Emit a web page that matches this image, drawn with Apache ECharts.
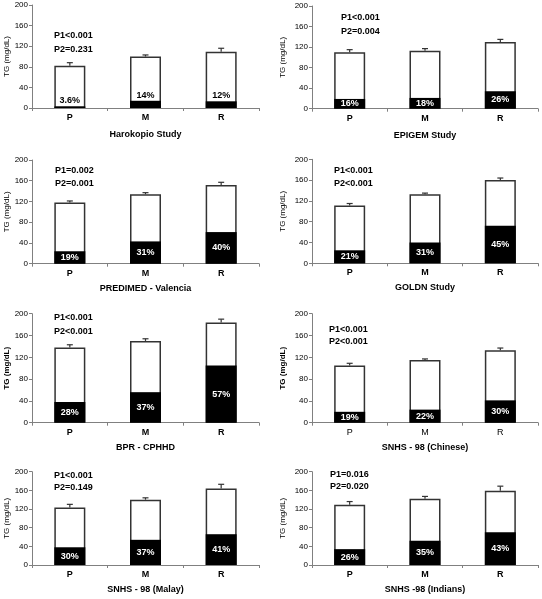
<!DOCTYPE html>
<html><head><meta charset="utf-8">
<script src="https://cdn.jsdelivr.net/npm/echarts@6/dist/echarts.min.js"></script>
<style>html,body{margin:0;padding:0;background:#fff}#c{width:542px;height:599px}</style>
</head><body><div id="c"></div>
<script>
const categories = ['P', 'M', 'R'];
const yTicks = [0, 40, 80, 120, 160, 200];
const titles = ['Harokopio Study', 'EPIGEM Study', 'PREDIMED - Valencia', 'GOLDN Study', 'BPR - CPHHD', 'SNHS - 98 (Chinese)', 'SNHS - 98 (Malay)', 'SNHS -98 (Indians)'];
const p1Labels = ['P1<0.001', 'P1<0.001', 'P1=0.002', 'P1<0.001', 'P1<0.001', 'P1<0.001', 'P1<0.001', 'P1=0.016'];
const p2Labels = ['P2=0.231', 'P2=0.004', 'P2=0.001', 'P2<0.001', 'P2<0.001', 'P2<0.001', 'P2=0.149', 'P2=0.020'];
const totals1 = [82, 100, 109], upper1 = [88, 103, 116], black1 = [3, 14, 13], pct1 = ['3.6%', '14%', '12%'];
const totals2 = [110, 113, 130], upper2 = [115, 117, 135], black2 = [19, 21, 34], pct2 = ['16%', '18%', '26%'];
const totals3 = [118, 134, 152], upper3 = [121, 137, 157], black3 = [24, 43, 61], pct3 = ['19%', '31%', '40%'];
const totals4 = [111, 133, 160], upper4 = [115, 135, 164], black4 = [25, 40, 72], pct4 = ['21%', '31%', '45%'];
const totals5 = [138, 150, 184], upper5 = [143, 154, 190], black5 = [38, 56, 105], pct5 = ['28%', '37%', '57%'];
const totals6 = [105, 115, 133], upper6 = [109, 117, 137], black6 = [20, 24, 41], pct6 = ['19%', '22%', '30%'];
const totals7 = [123, 140, 164], upper7 = [130, 144, 173], black7 = [38, 54, 66], pct7 = ['30%', '37%', '41%'];
const totals8 = [129, 142, 159], upper8 = [136, 147, 169], black8 = [34, 52, 70], pct8 = ['26%', '35%', '43%'];

const totals = [totals1, totals2, totals3, totals4, totals5, totals6, totals7, totals8];
const uppers = [upper1, upper2, upper3, upper4, upper5, upper6, upper7, upper8];
const blacks = [black1, black2, black3, black4, black5, black6, black7, black8];
const pcts = [pct1, pct2, pct3, pct4, pct5, pct6, pct7, pct8];

// layout
const gridBoxes = [
  {left: 32, top: 5, bottom: 108},
  {left: 312, top: 6, bottom: 108.7},
  {left: 32, top: 160, bottom: 263.7},
  {left: 312, top: 159.3, bottom: 263.3},
  {left: 32, top: 313.7, bottom: 422.7},
  {left: 312, top: 313.7, bottom: 422.7},
  {left: 32, top: 471.7, bottom: 565},
  {left: 312, top: 471.7, bottom: 565}
];
const titleGaps = [22, 22, 20, 20, 20, 20, 20.5, 20.5];
const pTextPos = [[54, 36, 50], [341, 18, 32], [55, 171, 184], [334, 171, 184], [54, 318, 332], [329, 330, 342], [54, 476, 488], [330, 475, 487]];
const boldYName = [false, false, false, false, true, true, false, false];
const boldCat = [true, true, true, true, true, false, true, true];

const font = 'Liberation Sans, Arial, sans-serif';
const grid = [], xAxis = [], yAxis = [], series = [], graphic = [];

gridBoxes.forEach((g, i) => {
  const right = (g.left < 100) ? 542 - 259 : 542 - 538;
  grid.push({left: g.left, top: g.top, width: 542 - right - g.left, height: g.bottom - g.top, containLabel: false});
  xAxis.push({
    type: 'category', gridIndex: i, data: categories,
    axisLine: {lineStyle: {color: '#808080', width: 1}},
    axisTick: {show: true, length: 3, lineStyle: {color: '#808080'}},
    axisLabel: {margin: 5, fontSize: 9, fontWeight: boldCat[i] ? 'bold' : 'normal', color: '#000', fontFamily: font},
    name: titles[i], nameLocation: 'middle', nameGap: titleGaps[i],
    nameTextStyle: {fontSize: 9, fontWeight: 'bold', color: '#000', fontFamily: font}
  });
  yAxis.push({
    type: 'value', gridIndex: i, min: yTicks[0], max: yTicks[yTicks.length - 1], interval: yTicks[1] - yTicks[0],
    axisLine: {show: true, lineStyle: {color: '#808080', width: 1}},
    axisTick: {show: true, length: 3, lineStyle: {color: '#808080'}},
    splitLine: {show: false},
    axisLabel: {margin: 4, fontSize: 8, color: '#000', fontFamily: font},
    name: 'TG (mg/dL)', nameLocation: 'middle', nameRotate: 90,
    nameGap: g.left < 100 ? 21 : 25,
    nameTextStyle: {fontSize: 8, fontWeight: boldYName[i] ? 'bold' : 'normal', color: '#000', fontFamily: font}
  });
  series.push({
    type: 'bar', xAxisIndex: i, yAxisIndex: i, data: totals[i], barWidth: 31, barGap: '-100%',
    itemStyle: {color: '#fff', borderColor: '#333', borderWidth: 1.5}, z: 2, silent: true
  });
  const isTop = i === 0;
  series.push({
    type: 'bar', xAxisIndex: i, yAxisIndex: i, data: blacks[i], barWidth: 31, barGap: '-100%',
    itemStyle: {color: '#000'}, z: 3, silent: true,
    label: {
      show: true, position: isTop ? 'top' : 'inside', distance: 1,
      color: isTop ? '#000' : '#fff', fontSize: 9, fontWeight: 'bold', fontFamily: font,
      formatter: (p) => pcts[i][p.dataIndex]
    }
  });
  series.push({
    type: 'custom', xAxisIndex: i, yAxisIndex: i, z: 4, silent: true,
    data: totals[i].map((t, k) => [k, t, uppers[i][k]]),
    renderItem: (params, api) => {
      const base = api.coord([api.value(0), api.value(1)]);
      const top = api.coord([api.value(0), api.value(2)]);
      const st = {stroke: '#333', lineWidth: 1.2};
      return {type: 'group', children: [
        {type: 'line', shape: {x1: base[0], y1: base[1], x2: top[0], y2: top[1]}, style: st},
        {type: 'line', shape: {x1: top[0] - 3, y1: top[1], x2: top[0] + 3, y2: top[1]}, style: st}
      ]};
    }
  });
  const tp = pTextPos[i];
  graphic.push({type: 'text', left: tp[0], top: tp[1] - 5, style: {text: p1Labels[i], font: 'bold 9px ' + font, fill: '#000'}});
  graphic.push({type: 'text', left: tp[0], top: tp[2] - 5, style: {text: p2Labels[i], font: 'bold 9px ' + font, fill: '#000'}});
});

const chart = echarts.init(document.getElementById('c'), null, {renderer: 'canvas'});
chart.setOption({animation: false, backgroundColor: '#fff', grid, xAxis, yAxis, series, graphic});
</script></body></html>
